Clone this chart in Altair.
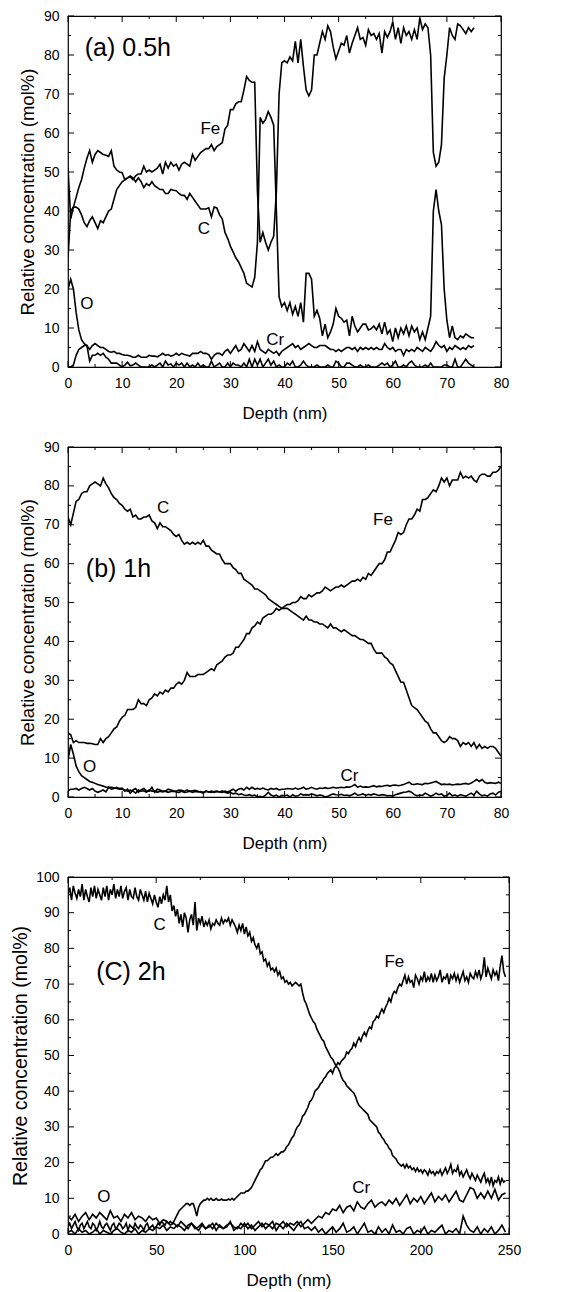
import altair as alt
import pandas as pd

# ---------------- Panel (a) 0.5h : depth 0..75 nm, 0.5 nm step ----------------
STEP_A = 0.5
fe_a = [
    28, 40, 41, 41, 40.5, 39, 37, 36, 37.5, 38.5,
    37, 35.5, 37.5, 37, 38.5, 40, 40.5, 43, 45.5, 46.5,
    47.5, 48, 48.5, 48.8, 48, 49, 49.5, 49.5, 51.5, 50,
    50.5, 50, 50.5, 51, 52, 49.5, 52.5, 51, 52.5, 51.5,
    52, 50.5, 52, 52.5, 52, 51.5, 54.5, 53, 54, 55,
    55.5, 56, 56, 57, 55.5, 56.5, 57, 57.5, 61, 62,
    66, 66, 67.5, 68, 68, 71, 74.5, 73.5, 73, 73,
    45, 32, 34.5, 32, 30, 32, 33.5, 45, 70, 78,
    78.5, 78, 79.5, 78.5, 83.5, 78, 84, 77, 71, 69.5,
    71, 80, 80, 83, 86, 84, 87.5, 86, 82, 79,
    81, 83, 82.5, 85, 80.5, 83, 85, 87, 84, 84.5,
    82.5, 86.5, 85, 85.5, 84, 85.5, 80.5, 86, 84.5, 86,
    88.5, 84, 87, 83, 87, 85, 86, 84, 86.5, 84,
    89.5, 86.5, 88, 87, 80, 55, 51.5, 52.5, 57, 74,
    80, 87, 85, 84, 88, 87.5, 86.5, 85.5, 87, 86,
    87]
c_a = [
    51, 38, 41, 43.5, 46, 48, 51, 53.5, 55.5, 52.5,
    54.5, 55.5, 55, 54.5, 54.3, 54, 55.5, 51.5, 50.5, 50,
    49.8, 48, 48.5, 49, 48.5, 47.5, 48.5, 47.5, 46, 47,
    46.5, 47.5, 46.5, 46, 45.5, 45.5, 44.5, 44.5, 45.5, 45.3,
    45.2, 44.5, 44, 44, 43, 44.5, 43.5, 42.5, 41.5, 40.5,
    40.5, 40.5, 40.8, 38.5, 41, 40.8, 39, 38, 34.5, 33,
    31, 29.5, 28, 27, 25.5, 24, 21.5, 21, 20.5, 23,
    32, 64, 62.5, 63.5, 65.5, 64, 62, 40, 18, 15.5,
    16.5, 14.5, 16.5, 13.5, 15.5, 13, 16.5, 11.5, 24, 24,
    22.5, 13, 14.5, 12.5, 8, 11, 7.5, 9, 11, 15,
    13, 12.5, 11.5, 12, 8, 13, 10.5, 9, 10, 11,
    11, 9.5, 9.8, 10.5, 9.5, 11, 8.5, 11.5, 8.5, 9.5,
    6.5, 10, 7.5, 10, 8.5, 10.5, 8, 10.5, 9, 10,
    7, 9, 7, 10, 13, 40, 45.5, 40, 36.5, 20,
    12, 7.5, 10.5, 7.5, 7, 8, 7.5, 8.5, 8, 7.5,
    7.5]
o_a = [
    20, 22.5, 20, 14, 9.5, 7, 6, 5.5, 1.5, 3,
    3, 3.5, 3, 3.5, 2.5, 2, 1, 1, 1, 0.5,
    0, 0.5, 1.2, 0.3, 0.5, 1, 0.5, 0, 0, 0,
    0, 0.5, 0, 0.5, 1, 0, 1.5, 0.5, 0.8, 0,
    1, 0.5, 1, 0, 1, 0, 0.5, 0, 1, 0,
    0.5, 0, 0, 1.5, 0, 0.5, 1, 0, 0, 1,
    0, 1, 0.5, 0.5, 0, 1, 0, 2, 0, 2,
    0.5, 2, 0, 1, 2, 0.5, 1.5, 0, 0.5, 0,
    0, 1, 0.5, 1.5, 0, 0, 0.5, 1.5, 0.5, 0,
    0, 0, 0.5, 0, 0, 0, 0.5, 0, 0, 1.5,
    1, 0, 0, 1, 1, 0.5, 0, 0, 0.5, 0,
    0, 0.5, 0, 0, 0, 0.5, 1, 0.5, 1, 0,
    0.5, 1.5, 0, 0, 0.5, 0, 1, 1.5, 0.5, 0,
    0, 0, 0.5, 0, 1, 0, 0, 0, 0, 0.5,
    0.5, 0, 0, 2, 0, 0, 1, 2, 1, 0.5,
    0]
cr_a = [
    0, 0, 0.5, 3, 4.5, 5, 5.5, 5.5, 4.5, 5.5,
    6, 5.5, 5, 5, 4.5, 4, 3.8, 4, 3.5, 3.5,
    3.2, 3, 3, 2.8, 2.5, 2.5, 3, 2.5, 2.5, 2.5,
    3, 2.8, 2.8, 2.6, 3, 3.5, 3, 3.2, 2.8, 3,
    3.5, 3, 3.5, 3.2, 3, 2.8, 3.5, 3.5, 3.5, 4,
    3.5, 3.5, 3.2, 2, 3, 3.5, 3.5, 3, 4, 4.5,
    3.5, 4.5, 5.5, 4, 4.5, 6, 5, 4, 5.5, 4,
    6.5, 4.5, 4, 3.5, 4.5, 4, 3.5, 4, 3, 4,
    4.5, 5, 5.5, 6, 5, 5.5, 4.5, 5, 5.5, 6,
    5.5, 5, 5, 5.5, 5.5, 5.5, 5, 4.5, 4.5, 4,
    4.5, 4, 4.5, 5, 5, 4.5, 5, 4, 5, 4.5,
    5, 4.5, 5, 4.5, 5, 4.5, 4.5, 6, 5, 4.5,
    5, 4, 4.5, 4.5, 3, 4.5, 4, 4.5, 4, 5,
    4.5, 4, 5, 4.5, 4, 5, 6.5, 5.5, 5, 5.5,
    4, 5, 4.5, 5.5, 5, 4.5, 5, 4.5, 5.5, 5,
    5.5]

# ---------------- Panel (b) 1h : depth 0..80 nm, 0.5 nm step ----------------
STEP_B = 0.5
c_b = [
    72, 70, 73, 76, 76.5, 78, 78.5, 78.5, 80, 80.5,
    81, 80.5, 80, 82, 80.5, 79.5, 78, 77, 76.5, 75.5,
    75, 74, 73.5, 74, 72, 72.5, 71.5, 71.5, 72, 72,
    72.5, 71, 70.5, 69, 70.5, 69.5, 69.5, 69, 68.5, 67.5,
    67, 67.5, 66, 65, 65.5, 65, 65.5, 65, 65.5, 65,
    66, 64.5, 64.5, 63.5, 63, 62.5, 62.5, 61, 60, 60,
    60, 59, 58.5, 57.5, 57.5, 56, 55.5, 55, 54.5, 53.5,
    53.5, 53, 52.5, 52, 51, 50.5, 50, 49.5, 49, 48.5,
    48.5, 48.5, 48, 47.5, 47, 46.5, 46, 45.5, 46.5, 45.5,
    45.5, 45, 45, 44.5, 44.5, 44, 43.5, 44.5, 43.5, 43.5,
    43, 42.5, 43, 42.5, 42, 41.5, 41.5, 41, 40.5, 40.5,
    40, 39.5, 39.5, 38, 37, 37, 37, 36, 35.5, 34.5,
    34, 32.5, 31, 29.5, 29.5, 27.5, 25.5, 23.5, 23, 22.5,
    21.5, 20.5, 19.5, 19, 17.5, 16.5, 16.5, 15.5, 14.5, 14,
    14.5, 15.5, 15, 15, 14.5, 13, 14, 13.5, 14, 13,
    14, 12.5, 13.5, 12.5, 13, 12.5, 13, 13, 12.5, 11.5,
    10.5]
fe_b = [
    16.5, 16, 14, 14.5, 14, 14, 14, 13.8, 13.8, 13.7,
    13.5, 13.5, 15, 14, 15, 15.5, 16.5, 17.5, 18, 19.5,
    20.5, 21, 22.5, 22.5, 22.5, 23, 25, 24, 24, 23.5,
    25, 25.5, 26.5, 26, 27, 26.5, 27.5, 27, 28, 28,
    29, 29.5, 29, 30, 32, 31, 31, 31, 31.5, 31.5,
    31.5, 32, 32.5, 33, 32.5, 34, 34.5, 35, 36, 36.5,
    36.5, 37, 38.5, 38.5, 39.5, 40.5, 42, 42, 43.5, 44,
    45, 44.5, 46, 46.5, 47, 47, 47.5, 48.5, 48, 48.5,
    49, 49.5, 49.5, 50, 50, 50.5, 51.5, 51, 51, 52,
    51.5, 52, 52.5, 52.5, 53, 54, 53.5, 53, 53.5, 54,
    54, 54.5, 54, 54.5, 55, 55.5, 55.5, 56, 55.5, 56.5,
    56, 57.5, 57, 58, 59, 60, 60, 61, 63, 63,
    64.5, 66, 68, 67.5, 68, 70, 71.5, 71.5, 72.5, 74,
    73.5, 76.5, 76.5, 77, 78, 79, 78.5, 80, 82, 81,
    82, 80, 81.5, 81.5, 81.5, 83.5, 82, 82.5, 82, 82.5,
    81.5, 81, 82.5, 83, 83, 82.5, 82.5, 83.5, 83.5, 84,
    85]
o_b = [
    9.5, 13.5, 11, 8, 6.5, 5.5, 5, 4.5, 4, 3.8,
    3.5, 3.2, 3, 2.8, 2.5, 2.5, 2.5, 2.3, 2.2, 2,
    2, 1.8, 1.5, 1.8, 1.5, 1, 1.8, 1.5, 1.6, 1.2,
    1.8, 1.5, 1.5, 1.2, 1.5, 1.3, 1.5, 1.2, 1.4, 1.5,
    1.3, 1.2, 1.5, 1.2, 1.3, 1.5, 1.2, 1.4, 1.3, 1.4,
    1.2, 1.5, 1.3, 1.2, 1.4, 1.5, 1.3, 1.6, 1.2, 1,
    1.2, 0.8, 1, 0.6, 0.8, 0.5, 0.4, 0.6, 0.3, 0.5,
    0, 0.2, 0, 0.5, 1.2, 0.5, 0.2, 0.5, 0, 0.4,
    0.3, 0.5, 0, 0.6, 0.2, 0.3, 0.8, 0.5, 0.6, 0.5,
    0.8, 0.6, 0.3, 0.5, 0.4, 0, 0.2, 0.5, 0.8, 0.6,
    0.5, 0.7, 0.4, 0.5, 0.3, 0.6, 1, 0.5, 0.6, 0.8,
    0.4, 0.7, 0.5, 0.8, 0.6, 0.4, 0.6, 0.5, 0.3, 0.4,
    0.2, 0.6, 0.8, 1, 1.2, 1.3, 1.5, 1.2, 0.6, 0.3,
    0.5, 0.4, 1, 0.6, 0.2, 0.5, 1, 0.6, 0.8, 0.2,
    0.4, 1, 0.3, 0.5, 0.2, 0.6, 0.4, 0.2, 0.6, 1,
    0.5, 1.5, 0.8, 0.3, 0.5, 0.2, 0.8, 1, 0.5, 1.2,
    1.5]
cr_b = [
    1.5, 2, 2, 2.2, 1.8, 2.2, 2.5, 2.2, 1.8, 2.2,
    1.5, 1.2, 1.5, 1.8, 1.3, 2.5, 2, 2.2, 2.5, 2.2,
    2.3, 1.5, 2, 1, 1.8, 2.2, 1.2, 1.8, 2.2, 1.5,
    1.5, 2.5, 1.2, 2, 1.8, 1.5, 1.5, 2, 1.8, 1.6,
    1.5, 1.8, 1.7, 1.5, 1.8, 1.5, 1.6, 1.7, 1.5, 1.2,
    1, 1.5, 1.3, 1.5, 1.2, 1.4, 1.3, 1.2, 1.5, 1.3,
    1.6, 2, 1.5, 2, 2.2, 1.8, 2.5, 2, 2.5, 2,
    2.2, 2, 2.3, 2, 1.8, 2.2, 2, 2.2, 1.8, 2,
    2, 2.2, 2.1, 2, 2.3, 2, 2.2, 2.5, 2, 2.2,
    2.5, 2.2, 2, 2.3, 2.2, 2.4, 2.2, 2.3, 2.5, 2.3,
    2.4, 2.5, 2.4, 2.6, 2.5, 2.8, 3.2, 2.5, 2.8, 2.5,
    2.6, 2.5, 2.7, 2.9, 2.6, 2.8, 2.7, 2.9, 3, 2.8,
    3, 3.1, 2.9, 3, 3.2, 3.5, 3.8, 3.3, 3.2, 3.4,
    3.3, 3.2, 3.5, 3.4, 3.6, 3.8, 4, 3.6, 3.2, 3.3,
    3.2, 3.3, 3.1, 3.2, 3.3, 3.2, 3.4, 3.5, 3.3, 3.6,
    4, 4.5, 4, 4.5, 3.8, 3.5, 3.7, 3.6, 3.5, 3.8,
    3.5]

# ---------------- Panel (C) 2h : depth 0..248 nm ----------------
STEP_C_MAIN = 1.0   # C and Fe
STEP_C_MINOR = 2.0  # O and Cr
c_c = [
    95, 97, 93.5, 97.5, 95.5, 94, 96.5, 94.5, 98, 93.5,
    96.5, 94.5, 93, 97, 94.5, 97.5, 94, 96.5, 95, 93.5,
    97, 94.5, 97.5, 93.5, 96.5, 95, 98, 94, 96.5, 94.5,
    97.5, 94, 96, 97, 93.5, 96.5, 94.5, 94, 97, 94.5,
    93.5, 96.5, 95, 93.5, 96, 93, 95.5, 94, 92.5, 95,
    93, 91.5, 94.5, 92.5, 95, 93.5, 97.5, 93, 95, 90.5,
    92, 89, 91, 87, 89.5, 86, 90, 88.5, 84.5, 88,
    89.5, 86.5, 93, 85, 88.5, 87, 89, 86, 87.5, 86.5,
    88, 85.5, 87, 86.5, 88, 87, 86.5, 88.5, 87, 88,
    87.5, 88.5, 86.5, 88, 87, 86, 84.5, 86.5, 85, 87,
    84, 86, 83.5, 84.5, 82, 83, 81, 80, 81.5, 78.5,
    79, 76.5, 77, 75, 76, 74, 74.5, 73.5, 74.5, 72.5,
    73.5, 71.5, 72, 70.5, 71, 70, 70.5, 69.5, 70, 70.5,
    70, 69.5, 70, 67.5, 65.5, 64.5, 63, 61.5, 60.5, 59.5,
    59, 57.5, 56.5, 55.5, 54.5, 54, 52.5, 51.5, 50.5, 49.5,
    49, 48, 47, 46.5, 45.5, 44, 43, 42.5, 41.5, 41,
    40.5, 40, 39.5, 38.5, 37, 36, 35.5, 35, 34.5, 34,
    33.5, 32, 31.5, 31, 30.5, 30, 28.5, 28, 27, 26.5,
    25.5, 25, 24, 23.5, 22, 21.5, 21, 20, 19.5, 19,
    19.5, 18.5, 19.5, 18.5, 19, 18, 18.5, 17.5, 18.5, 17.5,
    18, 17, 18, 17.5, 16.5, 18, 17, 17.5, 16.5, 17.5,
    17, 18, 16.5, 17.5, 18.5, 17, 18, 19.5, 17, 18,
    17.5, 19, 16.5, 17.5, 16, 17, 18, 16.5, 15.5, 17,
    16, 15, 16.5, 15.5, 14.5, 16, 17, 14.5, 15.5, 14,
    16, 13.5, 15, 14.5, 16, 14, 15.5, 14.5, 15]
fe_c = [
    2, 3, 1.5, 2.5, 3.5, 2, 1, 2.5, 3, 1.5,
    2.5, 3.5, 2, 1.5, 3, 2.5, 1, 2, 3.5, 2,
    1.5, 2.5, 3, 2, 1, 2.5, 3, 1.5, 2, 3,
    2.5, 1.5, 2, 3, 1, 2.5, 2, 1.5, 3, 2,
    1.5, 2.5, 2, 1, 2.5, 3, 1.5, 2, 2.5, 1.5,
    2, 3, 2.5, 3.5, 3, 2.5, 3.5, 3, 3.5, 3,
    3.5, 4.5, 5.5, 6.5, 7, 7.5, 8, 8.5, 8.5, 8,
    8.5, 8.5, 7, 5, 7.5, 8.5, 9, 9.5, 9.5, 10,
    9.5, 10, 9.5, 9.5, 10, 9.5, 9.5, 9.8, 9.5, 9.5,
    9.5, 9.8, 9.5, 10, 9.5, 10, 10.5, 11, 11.5, 11.5,
    11.5, 12, 12, 12.5, 13, 14, 15, 16, 17, 18,
    18.5, 19.5, 20.5, 20.5, 21, 21.5, 21.5, 22, 22.5, 22,
    22.5, 23, 23, 23.5, 24.5, 25, 26, 27, 27.5, 29,
    30, 30.5, 31.5, 33, 33.5, 34.5, 35.5, 37, 37.5, 38.5,
    40, 40.5, 41, 42, 42.5, 43.5, 44, 45, 45.5, 46,
    45, 46.5, 47, 48, 47.5, 48.5, 49, 49.5, 51, 50.5,
    51.5, 52, 53.5, 52.5, 54, 55, 54, 55.5, 56.5, 55.5,
    57, 58, 57.5, 59.5, 60, 61, 60.5, 62, 63, 62,
    63.5, 64.5, 66, 65, 67, 68, 67.5, 69, 70, 69.5,
    71, 72.5, 70, 72, 70.5, 71, 69, 72.5, 71.5, 70,
    72, 71, 73.5, 70.5, 72, 71, 73, 70.5, 72.5, 71,
    72, 74, 70.5, 72, 71.5, 73, 70, 72.5, 71.5, 73,
    71, 72.5, 70.5, 72, 73.5, 71, 72, 70.5, 73, 72,
    71.5, 73.5, 72, 74, 71.5, 73, 77.5, 72, 74.5, 73,
    71.5, 74, 72.5, 73.5, 71, 75, 78, 73.5, 72]
o_c = [
    5, 4, 5.5, 3.5, 5, 6, 4, 5.5, 4.5, 6,
    5, 4, 6.5, 4.5, 5, 3.5, 5.5, 4.5, 6, 4,
    5, 4.5, 3.5, 5, 4, 4.5, 3, 4, 3.5, 2.5,
    3, 2, 3.5, 2.5, 1.5, 3, 2, 1, 2.5, 1.5,
    2, 3, 1, 2.5, 1.5, 2, 3.5, 1, 2, 1.5,
    3, 1.5, 2.5, 1, 2, 3, 1.5, 2.5, 3.5, 1,
    2.5, 1.5, 3, 2, 1, 2.5, 3.5, 1.5, 2, 1,
    2, 0.5, 1.5, 0, 1, 2, 0.5, 1.5, 3, 0.5,
    1, 2, 0, 1.5, 3, 0.5, 1, 0, 2, 0.5,
    1.5, 0, 2.5, 0.5, 1, 0, 1.5, 2, 0, 1,
    0.5, 2, 0, 1, 0.5, 1.5, 2.5, 0, 1, 0.5,
    1.5, 0, 5, 2.5, 1, 0.5, 2, 0, 1.5, 0.5,
    2, 0, 1, 2.5, 0.5]
cr_c = [
    0.5, 1, 0, 1.5, 0.5, 1, 0, 0.5, 1.5, 0,
    1, 0.5, 0, 1, 1.5, 0.5, 0, 1, 0.5, 1.5,
    0, 1, 0.5, 1.5, 1, 2, 1.5, 2.5, 1, 2,
    1.5, 2.5, 2, 1, 2.5, 3, 1.5, 2, 3, 1.5,
    2.5, 1.5, 3, 2, 1.5, 2.5, 3, 2, 1.5, 3,
    2, 3, 1.5, 2.5, 3.5, 2, 3, 2.5, 1.5, 3,
    2.5, 3.5, 2, 3, 2.5, 3.5, 2, 3, 4, 3,
    4, 5, 4.5, 6, 5.5, 7, 6.5, 8, 6, 7.5,
    8, 6.5, 9, 7.5, 7, 8.5, 9.5, 7.5, 8.5, 9,
    8, 9.5, 8.5, 10, 8, 9.5, 11, 8.5, 10, 9,
    10.5, 8.5, 10, 11.5, 9, 10.5, 9.5, 11, 9, 10.5,
    12, 9.5, 9, 11, 13, 12.5, 10, 11.5, 10, 12,
    10, 12.5, 9.5, 11, 11.5]

# ---------------- Tick values ----------------
x_major_ab = [0, 10, 20, 30, 40, 50, 60, 70, 80]
x_minor_ab = [5, 15, 25, 35, 45, 55, 65, 75]
y_major_ab = [0, 10, 20, 30, 40, 50, 60, 70, 80, 90]
y_minor_ab = [5, 15, 25, 35, 45, 55, 65, 75, 85]
x_major_c = [0, 50, 100, 150, 200, 250]
x_minor_c = [25, 75, 125, 175, 225]
y_major_c = [0, 10, 20, 30, 40, 50, 60, 70, 80, 90, 100]
y_minor_c = [5, 15, 25, 35, 45, 55, 65, 75, 85, 95]

# ---------------- Annotations ----------------
ann_a_text = ["Fe", "C", "O", "Cr"]
ann_a_x = [26.3, 25.1, 3.5, 38.3]
ann_a_y = [60.9, 35.5, 16.1, 6.8]
ann_b_text = ["C", "Fe", "O", "Cr"]
ann_b_x = [17.6, 58.2, 4.0, 52.0]
ann_b_y = [74.2, 71.3, 7.7, 5.3]
ann_c_text = ["C", "Fe", "O", "Cr"]
ann_c_x = [51.9, 185.0, 20.3, 166.2]
ann_c_y = [86.5, 76.2, 10.4, 12.8]
panel_titles = ["(a) 0.5h", "(b) 1h", "(C) 2h"]
panel_title_x = [3.1, 3.3, 16.0]
panel_title_y = [81.7, 58.7, 73.4]

FONT = "Liberation Sans"


def series_df(step, named):
    rows = []
    for name, vals in named:
        for i, v in enumerate(vals):
            rows.append({"depth": round(i * step, 3), "value": v, "element": name})
    return pd.DataFrame(rows)


def panel(df, xdom, ydom, W, H, xmaj, xmin, ymaj, ymin,
          ann_text, ann_x, ann_y, ptitle, ptx, pty, ytitle_pad, ytitle_size):
    xs = alt.Scale(domain=xdom, nice=False, zero=False)
    ys = alt.Scale(domain=ydom, nice=False, zero=False)
    xaxis = alt.Axis(values=xmaj, title="Depth (nm)", ticks=False, tickSize=0,
                     domain=False, grid=False, labelFlush=False, labelOverlap=False,
                     labelPadding=9, titlePadding=15, format="d")
    yaxis = alt.Axis(values=ymaj, title="Relative concentration (mol%)", ticks=False,
                     tickSize=0, domain=False, grid=False, labelFlush=False,
                     labelOverlap=False, labelPadding=9, titlePadding=ytitle_pad,
                     titleFontSize=ytitle_size, format="d")

    def X(field):
        return alt.X(field, scale=xs, axis=xaxis, title="Depth (nm)")

    def Y(field):
        return alt.Y(field, scale=ys, axis=yaxis, title="Relative concentration (mol%)")

    lines = alt.Chart(df).mark_line(color="black", strokeWidth=1.6, clip=True).encode(
        x=X("depth:Q"), y=Y("value:Q"), detail="element:N")
    adf = pd.DataFrame({"depth": ann_x, "value": ann_y, "t": ann_text})
    ann = alt.Chart(adf).mark_text(font=FONT, fontSize=17, color="black",
                                   align="center", baseline="middle").encode(
        x=X("depth:Q"), y=Y("value:Q"), text="t:N")
    tdf = pd.DataFrame({"depth": [ptx], "value": [pty], "t": [ptitle]})
    ttl = alt.Chart(tdf).mark_text(font=FONT, fontSize=25, color="black",
                                   align="left", baseline="middle").encode(
        x=X("depth:Q"), y=Y("value:Q"), text="t:N")
    layers = [lines, ann, ttl]
    # inward ticks on all four sides
    for vals, ln in ((xmaj, 6), (xmin, 3)):
        tdfx = pd.DataFrame({"depth": vals})
        layers.append(alt.Chart(tdfx).mark_rule(color="black", strokeWidth=1).encode(
            x=X("depth:Q"), y=alt.value(0), y2=alt.value(ln)))
        layers.append(alt.Chart(tdfx).mark_rule(color="black", strokeWidth=1).encode(
            x=X("depth:Q"), y=alt.value(H), y2=alt.value(H - ln)))
    for vals, ln in ((ymaj, 6), (ymin, 3)):
        tdfy = pd.DataFrame({"value": vals})
        layers.append(alt.Chart(tdfy).mark_rule(color="black", strokeWidth=1).encode(
            y=Y("value:Q"), x=alt.value(0), x2=alt.value(ln)))
        layers.append(alt.Chart(tdfy).mark_rule(color="black", strokeWidth=1).encode(
            y=Y("value:Q"), x=alt.value(W), x2=alt.value(W - ln)))
    return alt.layer(*layers).properties(width=W, height=H)


df_a = series_df(STEP_A, [("Fe", fe_a), ("C", c_a), ("O", o_a), ("Cr", cr_a)])
df_b = series_df(STEP_B, [("Fe", fe_b), ("C", c_b), ("O", o_b), ("Cr", cr_b)])
df_c = pd.concat([series_df(STEP_C_MAIN, [("Fe", fe_c), ("C", c_c)]),
                  series_df(STEP_C_MINOR, [("O", o_c), ("Cr", cr_c)])], ignore_index=True)

pa = panel(df_a, [0, 80], [0, 90], 433, 351, x_major_ab, x_minor_ab, y_major_ab, y_minor_ab,
           ann_a_text, ann_a_x, ann_a_y, panel_titles[0], panel_title_x[0], panel_title_y[0], 6, 18.5)
pb = panel(df_b, [0, 80], [0, 90], 433, 350, x_major_ab, x_minor_ab, y_major_ab, y_minor_ab,
           ann_b_text, ann_b_x, ann_b_y, panel_titles[1], panel_title_x[1], panel_title_y[1], 6, 18.5)
pc = panel(df_c, [0, 250], [0, 100], 441, 357, x_major_c, x_minor_c, y_major_c, y_minor_c,
           ann_c_text, ann_c_x, ann_c_y, panel_titles[2], panel_title_x[2], panel_title_y[2], 5, 19.5)

chart = alt.vconcat(pa, pb, pc, spacing=17).properties(
    padding={"left": 10, "top": 8, "right": 5, "bottom": 5},
    background="white",
).configure_view(stroke="black", strokeWidth=1.2).configure_axis(
    labelFont=FONT, titleFont=FONT, labelFontSize=14, titleFontSize=17,
    labelColor="black", titleColor="black", titleFontWeight="normal",
)

chart.save("out.html", embed_options={"renderer": "svg", "actions": False})
